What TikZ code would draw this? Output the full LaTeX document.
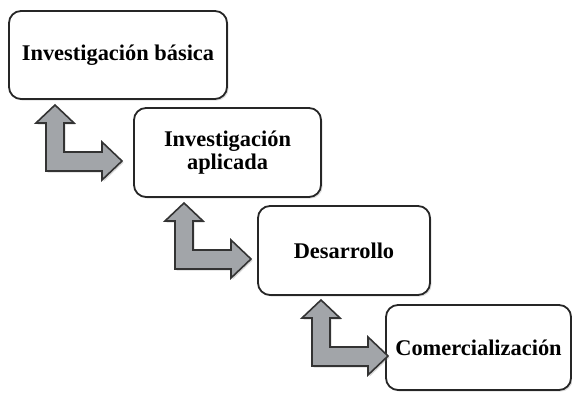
\documentclass[tikz,border=0pt]{standalone}
\usepackage{fontspec}
\setmainfont{Liberation Serif}
\usetikzlibrary{shadows}
\definecolor{arrowgray}{RGB}{162,165,169}
\begin{document}
\begin{tikzpicture}[x=0.5pt,y=-0.5pt,
	etapa/.style={rectangle, rounded corners=6pt, draw=black!85, line width=0.9pt, fill=white,
		drop shadow={shadow xshift=0.8pt, shadow yshift=-0.8pt, opacity=0.25},
		align=center, font=\fontsize{11.2}{11.6}\selectfont\bfseries, inner sep=2pt},
	bidir/.pic={
		\draw[draw=black!80, line width=0.8pt, fill=arrowgray, line join=miter,
			drop shadow={shadow xshift=0.8pt, shadow yshift=-0.8pt, opacity=0.3}]
		(0,0) -- (19,18) -- (9,18) -- (9,47) -- (47,47) -- (47,37) -- (67,56) -- (47,75)
		-- (47,66) -- (-9,66) -- (-9,18) -- (-19,18) -- cycle;
	}]
		\useasboundingbox (0,0) rectangle (572,394);
		%Etapas
		\node at (118,55) [etapa, minimum width=109pt, minimum height=44pt] (basica) {Investigación básica};
		\node at (227.5,152.5) [etapa, minimum width=93.5pt, minimum height=44.5pt] (aplicada) {Investigación\\aplicada};
		\node at (344,250.5) [etapa, minimum width=86pt, minimum height=44.5pt] (desarrollo) {Desarrollo};
		\node at (478.5,347.5) [etapa, minimum width=92.5pt, minimum height=42.5pt] (comercial) {Comercialización};
		%Flechas entre etapas
		\pic at (55,105) {bidir};
		\pic at (184,203) {bidir};
		\pic at (321,300) {bidir};
\end{tikzpicture}
\end{document}
